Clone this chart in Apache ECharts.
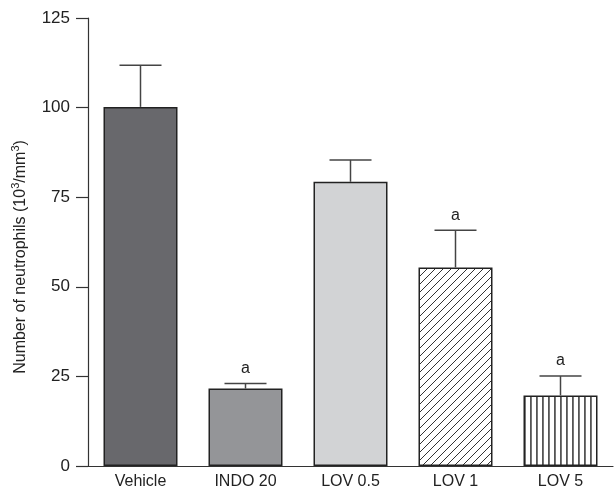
<!DOCTYPE html>
<html>
<head>
<meta charset="utf-8">
<script src="https://cdn.jsdelivr.net/npm/echarts@6/dist/echarts.min.js"></script>
<style>
html,body{margin:0;padding:0;background:#fff;}
#chart{width:616px;height:498px;}
</style>
</head>
<body>
<div id="chart"></div>
<script>
var categories = ['Vehicle', 'INDO 20', 'LOV 0.5', 'LOV 1', 'LOV 5'];
var means = [100.2, 21.6, 79.3, 55.4, 19.7];
var errTops = [111.8, 23.0, 85.4, 65.8, 25.1];
var sigLabels = ['', 'a', '', 'a', 'a'];
var yTicks = [0, 25, 50, 75, 100, 125];

var FONT = 'Liberation Sans, Arial, Helvetica, sans-serif';

function makePattern(kind) {
  var c = document.createElement('canvas');
  var ctx;
  if (kind === 'diag') {
    c.width = 8; c.height = 8;
    ctx = c.getContext('2d');
    ctx.fillStyle = '#ffffff'; ctx.fillRect(0, 0, 8, 8);
    ctx.strokeStyle = '#333333'; ctx.lineWidth = 1;
    ctx.beginPath();
    ctx.moveTo(-1, 9); ctx.lineTo(9, -1);
    ctx.moveTo(-5, 5); ctx.lineTo(5, -5);
    ctx.moveTo(3, 13); ctx.lineTo(13, 3);
    ctx.stroke();
  } else {
    c.width = 6; c.height = 6;
    ctx = c.getContext('2d');
    ctx.fillStyle = '#ffffff'; ctx.fillRect(0, 0, 6, 6);
    ctx.fillStyle = '#555555'; ctx.fillRect(2, 0, 1.8, 6);
  }
  return c;
}

var fills = ['#68686c', '#949598', '#d2d3d5',
  { image: makePattern('diag'), repeat: 'repeat' },
  { image: makePattern('vert'), repeat: 'repeat' }];

var chart = echarts.init(document.getElementById('chart'), null, { renderer: 'canvas' });
chart.setOption({
  animation: false,
  backgroundColor: '#ffffff',
  grid: { left: 88, right: 3, top: 18, bottom: 32 },
  xAxis: {
    type: 'category',
    data: categories,
    axisLine: { lineStyle: { color: '#333', width: 1.2 } },
    axisTick: { alignWithLabel: true, length: 5, lineStyle: { color: '#333', width: 1.2 } },
    axisLabel: { color: '#222', fontSize: 16, fontFamily: FONT, margin: 8 }
  },
  yAxis: {
    type: 'value',
    min: yTicks[0], max: yTicks[yTicks.length - 1], interval: 25,
    name: 'Number of neutrophils (10{sup|3}/mm{sup|3})',
    nameLocation: 'middle', nameGap: 48,
    nameTextStyle: {
      color: '#222', fontSize: 16, fontFamily: FONT, lineHeight: 20,
      padding: [0, 30, 0, 0],
      rich: { sup: { fontSize: 11, fontFamily: FONT, color: '#222', verticalAlign: 'top', lineHeight: 20 } }
    },
    axisLine: { show: true, lineStyle: { color: '#333', width: 1.2 } },
    axisTick: { show: true, length: 12, lineStyle: { color: '#333', width: 1.2 } },
    axisLabel: { color: '#222', fontSize: 17, fontFamily: FONT, margin: 18 },
    splitLine: { show: false }
  },
  series: [
    {
      type: 'bar',
      barWidth: 74,
      data: means.map(function (v, i) {
        return { value: v, itemStyle: { color: fills[i], borderColor: '#222', borderWidth: 1.5 } };
      }),
      z: 2
    },
    {
      type: 'custom',
      z: 3,
      data: means.map(function (v, i) { return [i, v, errTops[i]]; }),
      renderItem: function (params, api) {
        var i = api.value(0);
        var p0 = api.coord([i, api.value(1)]);
        var p1 = api.coord([i, api.value(2)]);
        var half = 21;
        var children = [
          { type: 'line', shape: { x1: p0[0], y1: p0[1], x2: p1[0], y2: p1[1] }, style: { stroke: '#444', lineWidth: 1.5 } },
          { type: 'line', shape: { x1: p1[0] - half, y1: p1[1], x2: p1[0] + half, y2: p1[1] }, style: { stroke: '#444', lineWidth: 1.5 } }
        ];
        var lab = sigLabels[i];
        if (lab) {
          children.push({
            type: 'text',
            style: { text: lab, x: p1[0], y: p1[1] - 7, align: 'center', verticalAlign: 'bottom',
              fill: '#222', fontSize: 16, fontFamily: FONT }
          });
        }
        return { type: 'group', children: children };
      }
    }
  ]
});
</script>
</body>
</html>
